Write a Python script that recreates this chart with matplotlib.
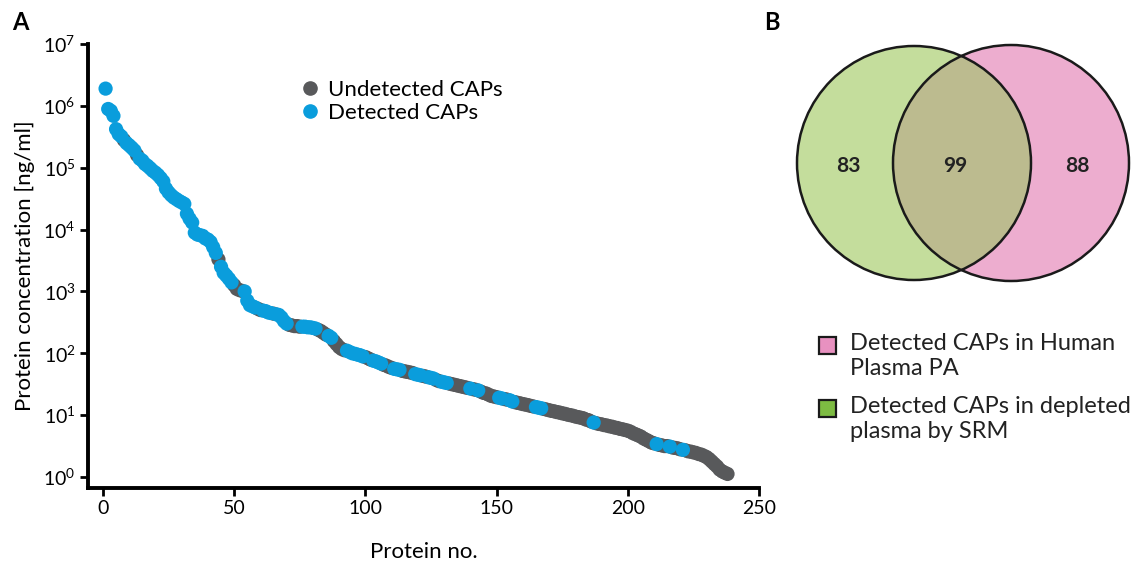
import matplotlib
matplotlib.use('Agg')
import matplotlib.pyplot as plt
from matplotlib.lines import Line2D
from matplotlib.patches import Circle, Rectangle
from matplotlib.ticker import NullLocator, FixedLocator

# protein concentration [ng/ml], sorted, protein no. 1..238
concentration = [
    1.9e6, 8.9e5, 8.3e5, 6.9e5, 4.2e5, 3.5e5, 3.2e5, 2.8e5, 2.5e5, 2.3e5,
    2.1e5, 1.9e5, 1.6e5, 1.4e5, 1.3e5, 1.15e5, 1.07e5, 9.8e4, 8.9e4, 8.3e4,
    7.6e4, 6.8e4, 6.0e4, 4.6e4, 4.0e4, 3.6e4, 3.3e4, 3.1e4, 2.9e4, 2.75e4,
    2.6e4, 1.8e4, 1.5e4, 1.3e4, 8.9e3, 8.3e3, 8.1e3, 7.9e3, 7.2e3, 6.9e3,
    6.3e3, 5.2e3, 4.2e3, 3.3e3, 2.5e3, 2.0e3, 1.8e3, 1.6e3, 1.4e3, 1.26e3,
    1.1e3, 1.05e3, 1.02e3, 1.0e3, 710, 600, 575, 550, 525, 500,
    490, 480, 457, 447, 437, 427, 417, 380, 331, 302,
    288, 282, 275, 275, 269, 269, 269, 263, 263, 257,
    251, 240, 229, 214, 200, 191, 178, 158, 141, 126,
    117, 112, 110, 105, 100, 98, 95, 93, 89, 87,
    83, 79, 76, 74, 71, 68, 65, 63, 60, 58,
    56, 55, 54, 52, 51, 50, 49, 48, 46, 45,
    44, 43, 42, 41, 40, 39, 37, 35.5, 34.7, 33.9,
    33.1, 32.4, 31.6, 30.9, 30.2, 29.5, 28.8, 28.2, 27.5, 26.9,
    26.3, 25.7, 25.1, 24.0, 22.9, 22.4, 21.4, 20.4, 20.0, 19.5,
    19.1, 18.6, 18.2, 17.8, 17.4, 16.6, 16.2, 15.8, 15.5, 15.1,
    14.8, 14.5, 14.1, 13.8, 13.5, 13.2, 12.9, 12.6, 12.3, 12.0,
    11.7, 11.5, 11.2, 11.0, 10.7, 10.5, 10.2, 10.0, 9.8, 9.5,
    9.3, 9.1, 8.9, 8.5, 8.3, 7.9, 7.6, 7.4, 7.2, 7.1,
    6.9, 6.8, 6.6, 6.5, 6.3, 6.2, 6.0, 5.9, 5.75, 5.6,
    5.4, 5.1, 4.9, 4.7, 4.5, 4.2, 4.0, 3.8, 3.6, 3.5,
    3.4, 3.3, 3.24, 3.16, 3.16, 3.1, 3.0, 2.95, 2.9, 2.8,
    2.75, 2.7, 2.6, 2.57, 2.5, 2.45, 2.35, 2.3, 2.2, 2.1,
    1.95, 1.78, 1.62, 1.48, 1.32, 1.23, 1.17, 1.12,
]

# protein numbers detected (blue)
detected_no = (
    list(range(1, 8)) + list(range(9, 13)) + list(range(14, 44)) +
    list(range(45, 50)) + list(range(54, 59)) + list(range(61, 65)) +
    list(range(66, 71)) + list(range(76, 82)) + [86, 87] +
    list(range(93, 100)) + list(range(103, 107)) + [111, 112, 113] +
    [119, 120, 121, 124, 125, 126, 129, 130, 131, 140, 143, 151, 152,
     155, 156, 165, 166, 167, 187, 211, 216, 221]
)

x_ticks = [0, 50, 100, 150, 200, 250]

venn_counts = [83, 99, 88]  # depleted SRM only, both, Human Plasma PA only
venn_legend = ['Detected CAPs in Human\nPlasma PA',
               'Detected CAPs in depleted\nplasma by SRM']

GRAY = '#58595b'
BLUE = '#0a9ddc'
GREEN = '#c4dd9c'
PINK = '#edadcf'
OLIVE = '#bcbb8f'
GREEN_SQ = '#7dbb42'
PINK_SQ = '#e891c0'


def main():
    plt.rcParams['font.family'] = ['Lato', 'DejaVu Sans']
    plt.rcParams['mathtext.fontset'] = 'custom'
    plt.rcParams['mathtext.rm'] = 'Lato'
    plt.rcParams['mathtext.it'] = 'Lato:italic'
    plt.rcParams['mathtext.bf'] = 'Lato:bold'

    fig = plt.figure(figsize=(11.36, 5.61), dpi=100)

    # ---- panel A ----
    ax = fig.add_axes([88 / 1136, 1 - 488 / 561, (759 - 88) / 1136, (488 - 44) / 561])
    prot_no = list(range(1, len(concentration) + 1))
    det = set(detected_no)
    gx = [n for n in prot_no if n not in det]
    gy = [concentration[n - 1] for n in gx]
    bx = [n for n in prot_no if n in det]
    by = [concentration[n - 1] for n in bx]

    ax.scatter(gx, gy, s=105, color=GRAY, edgecolors='none', zorder=2)
    ax.scatter(bx, by, s=105, color=BLUE, edgecolors='none', zorder=3)

    ax.set_yscale('log')
    ax.set_xlim(-5.7, 250)
    ax.set_ylim(10 ** -0.178, 1e7)
    ax.yaxis.set_major_locator(FixedLocator([10.0 ** k for k in range(0, 8)]))
    ax.yaxis.set_minor_locator(NullLocator())
    ax.set_xticks(x_ticks)

    for s in ['top', 'right']:
        ax.spines[s].set_visible(False)
    for s in ['left', 'bottom']:
        ax.spines[s].set_linewidth(2.8)
    ax.tick_params(direction='out', length=6, width=2, labelsize=14, pad=3)
    ax.set_xlabel('Protein no.', fontsize=16, labelpad=18)
    ax.set_ylabel('Protein concentration [ng/ml]', fontsize=16, labelpad=6)

    handles = [Line2D([], [], marker='o', linestyle='none', color=GRAY, markersize=9.5),
               Line2D([], [], marker='o', linestyle='none', color=BLUE, markersize=9.5)]
    ax.legend(handles, ['Undetected CAPs', 'Detected CAPs'], loc='upper left',
              bbox_to_anchor=(0.305, 0.94), frameon=False, fontsize=16,
              handlelength=0.8, handletextpad=0.4, labelspacing=0.15,
              borderaxespad=0)

    fig.text(12 / 1136, 1 - 22 / 561, 'A', fontsize=17, fontweight='bold', va='center')
    fig.text(764 / 1136, 1 - 22 / 561, 'B', fontsize=17, fontweight='bold', va='center')

    # ---- panel B: Venn ----
    bx_ax = fig.add_axes([780 / 1136, 0, 356 / 1136, 1])
    bx_ax.set_xlim(0, 356)
    bx_ax.set_ylim(561, 0)
    bx_ax.set_aspect('equal')
    bx_ax.axis('off')

    left = Circle((134, 163), 117, facecolor=GREEN, edgecolor='none', zorder=1)
    right = Circle((231, 163), 118, facecolor=PINK, edgecolor='none', zorder=1)
    bx_ax.add_patch(left)
    bx_ax.add_patch(right)
    both = Circle((134, 163), 117, facecolor=OLIVE, edgecolor='none', zorder=2)
    bx_ax.add_patch(both)
    both.set_clip_path(right)
    for c, r in [((134, 163), 117), ((231, 163), 118)]:
        bx_ax.add_patch(Circle(c, r, facecolor='none', edgecolor='#1a1a1a',
                               linewidth=1.8, zorder=3))

    for xpos, cnt in zip([68, 175, 297], venn_counts):
        bx_ax.text(xpos, 166, str(cnt), fontsize=15, fontweight='bold',
                   ha='center', va='center', color='#222222', zorder=4)

    for i, (col, lab) in enumerate(zip([PINK_SQ, GREEN_SQ], venn_legend)):
        y0 = 345 + i * 63
        bx_ax.add_patch(Rectangle((38.5, y0 - 8.5), 17, 17, facecolor=col,
                                  edgecolor='#1a1a1a', linewidth=1.6))
        bx_ax.text(70, y0 - 12, lab, fontsize=17, ha='left', va='top',
                   linespacing=1.25, color='#222222')

    fig.savefig('out.png', dpi=100)


if __name__ == '__main__':
    main()
